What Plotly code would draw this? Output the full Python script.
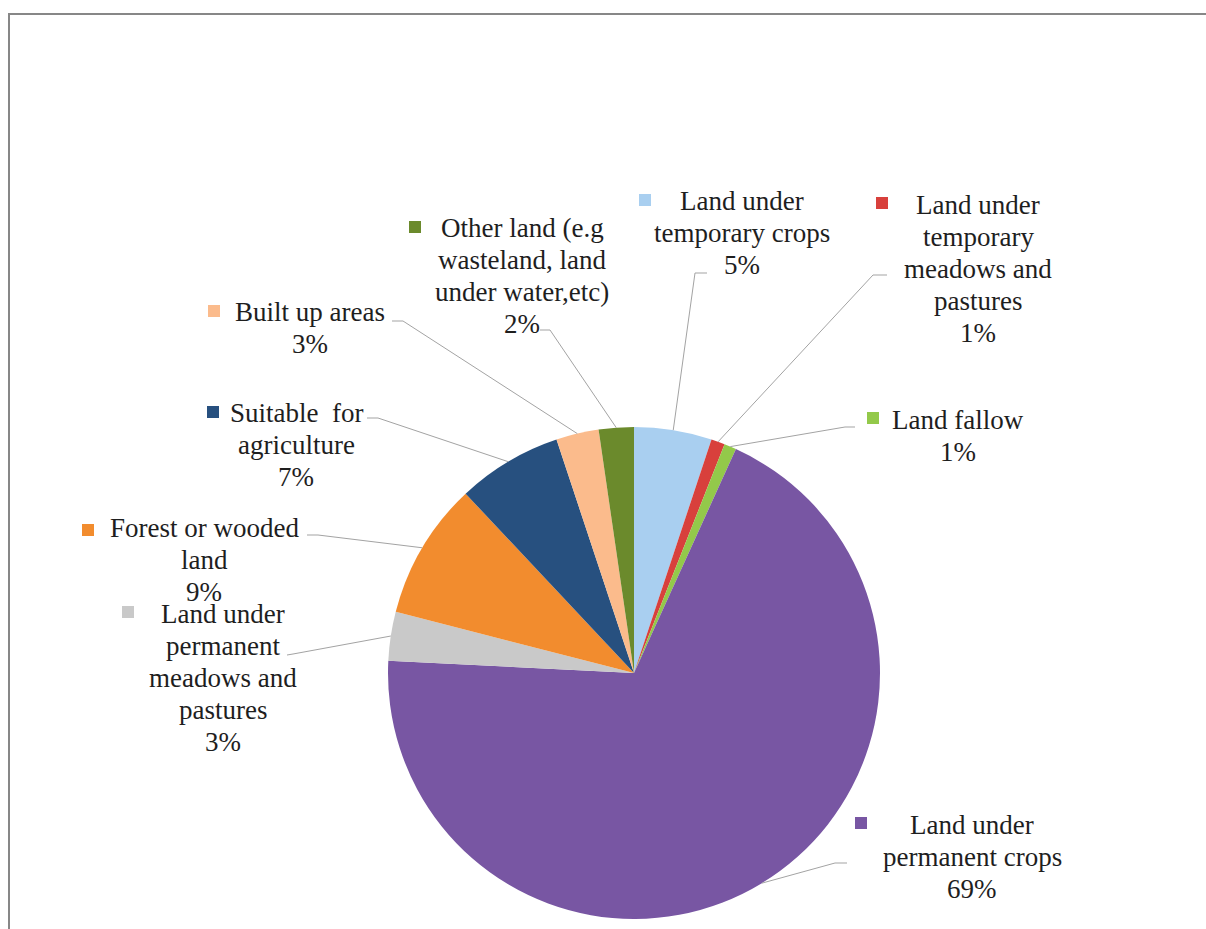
import math
import plotly.graph_objects as go

# slices, clockwise from 12 o'clock
labels = ["Land under temporary crops", "Land under temporary meadows and pastures",
          "Land fallow", "Land under permanent crops",
          "Land under permanent meadows and pastures", "Forest or wooded land",
          "Suitable for agriculture", "Built up areas",
          "Other land (e.g wasteland, land under water,etc)"]
values = [5.1, 0.9, 0.8, 69.0, 3.2, 9.0, 6.9, 2.8, 2.3]
pct_text = ["5%", "1%", "1%", "69%", "3%", "9%", "7%", "3%", "2%"]
label_lines = [["Land under", "temporary crops"],
               ["Land under", "temporary", "meadows and", "pastures"],
               ["Land fallow"],
               ["Land under", "permanent crops"],
               ["Land under", "permanent", "meadows and", "pastures"],
               ["Forest or wooded", "land"],
               ["Suitable  for", "agriculture"],
               ["Built up areas"],
               ["Other land (e.g", "wasteland, land", "under water,etc)"]]
colors = ["#a9cff0", "#d8403c", "#93c94a", "#7856a3", "#c9c9c9",
          "#f28c2e", "#27507f", "#fbbb8c", "#6b8a2c"]

W, H = 1206, 929
CX, CY, R = 634, 673, 246
LINE = 32  # px between label lines

# label layout (pixels): text centre x / first line y, legend key, leader line end and elbow
lab_pos = [(742, 201), (978, 205), (958, 420), (972, 825), (223, 614),
           (204, 528), (296, 413), (310, 312), (522, 228)]
key_pos = [(645, 200), (882, 203), (873, 418), (861, 823), (128, 612),
           (88, 530), (213, 412), (214, 311), (415, 227)]
lead_pos = [((707, 273), (695, 273)), ((887, 275), (873, 275)),
            ((855, 427), (845, 427)), ((847, 863), (835, 863)),
            ((287, 655), (293, 654)), ((307, 535), (318, 535)),
            ((367, 418), (378, 418)), ((392, 321), (403, 321)),
            ((540, 330), (550, 330))]


def px(x):
    return x / W


def py(y):
    return 1 - y / H


fig = go.Figure(go.Pie(
    labels=labels, values=values, sort=False, direction="clockwise", rotation=0,
    marker=dict(colors=colors, line=dict(width=0)),
    textinfo="none", hoverinfo="label+percent", showlegend=False,
    domain=dict(x=[px(CX - R), px(CX + R)], y=[py(CY + R), py(CY - R)]),
))

shapes = []
annotations = []
total = sum(values)
cum = 0
for i, v in enumerate(values):
    mid = (cum + v / 2) / total * 2 * math.pi
    cum += v
    sx = CX + R * math.sin(mid)
    sy = CY - R * math.cos(mid)
    (ex, ey), (bx, by) = lead_pos[i]
    shapes.append(dict(type="path", xref="paper", yref="paper",
                       path=f"M {px(ex)} {py(ey)} L {px(bx)} {py(by)} L {px(sx)} {py(sy)}",
                       line=dict(color="#a3a3a3", width=1)))
    kx, ky = key_pos[i]
    shapes.append(dict(type="rect", xref="paper", yref="paper",
                       x0=px(kx - 6), x1=px(kx + 6), y0=py(ky + 6), y1=py(ky - 6),
                       fillcolor=colors[i], line=dict(width=0)))
    lx, ly = lab_pos[i]
    for j, line in enumerate(label_lines[i] + [pct_text[i]]):
        annotations.append(dict(x=px(lx), y=py(ly + j * LINE), xref="paper", yref="paper",
                                text=line, showarrow=False,
                                xanchor="center", yanchor="middle",
                                font=dict(family="Liberation Serif, Times New Roman, serif",
                                          size=27, color="#1e1e1e")))

# chart frame
shapes.append(dict(type="rect", xref="paper", yref="paper",
                   x0=px(9), x1=px(W + 20), y0=py(H + 20), y1=py(14),
                   line=dict(color="#878787", width=2)))

fig.update_layout(width=W, height=H, margin=dict(l=0, r=0, t=0, b=0),
                  paper_bgcolor="white", plot_bgcolor="white",
                  font=dict(family="Liberation Serif, Times New Roman, serif"),
                  shapes=shapes, annotations=annotations)
# drop the default 8px body margin so the figure sits at the page corner
fig.write_html("out.html", config={"displayModeBar": False},
               post_script="document.body.style.margin='0';")
